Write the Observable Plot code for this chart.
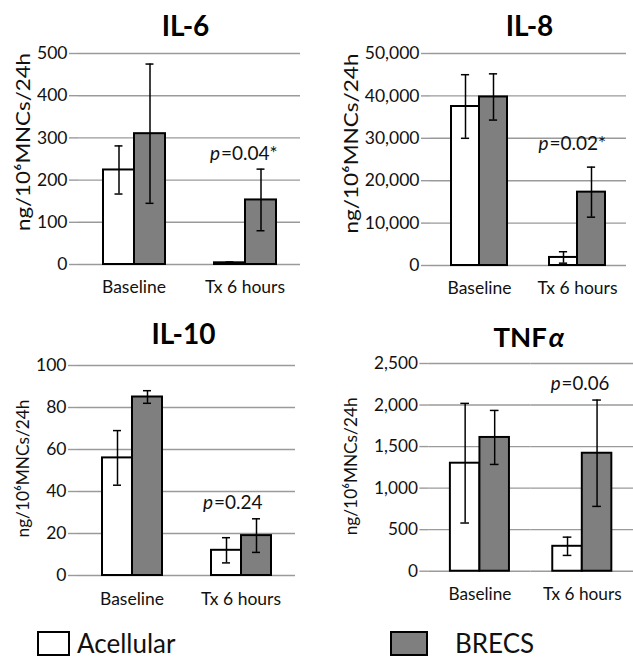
<!DOCTYPE html>
<html>
<head>
<meta charset="utf-8">
<script src="https://cdn.jsdelivr.net/npm/d3@7"></script>
<script src="https://cdn.jsdelivr.net/npm/@observablehq/plot@0.6"></script>
<style>
  html, body { margin: 0; padding: 0; background: #fff; }
  #root { position: relative; width: 633px; height: 666px; overflow: hidden; background: #fff; font-family: Lato, "Open Sans", sans-serif; }
  .panel { position: absolute; }
  .legend-box { box-sizing: border-box; border: 2.5px solid #000; }
  .legend-text { font-size: 26px; color: #111; }
</style>
</head>
<body>
<div id="root"></div>
<script>
// ---------------- data ----------------
const categories = ["Baseline", "Tx 6 hours"];
const seriesNames = ["Acellular", "BRECS"];
const yAxisLabel = "ng/10\u2076MNCs/24h";

const il6Acellular = [224, 4];
const il6AcellularSD = [57, 2];
const il6Brecs = [310, 153];
const il6BrecsSD = [165, 73];
const il6Ticks = [0, 100, 200, 300, 400, 500];

const il8Acellular = [37500, 1900];
const il8AcellularSD = [7500, 1350];
const il8Brecs = [39750, 17300];
const il8BrecsSD = [5450, 5900];
const il8Ticks = [0, 10000, 20000, 30000, 40000, 50000];

const il10Acellular = [56, 12];
const il10AcellularSD = [13, 6];
const il10Brecs = [85, 19];
const il10BrecsSD = [3, 8];
const il10Ticks = [0, 20, 40, 60, 80, 100];

const tnfAcellular = [1300, 300];
const tnfAcellularSD = [720, 110];
const tnfBrecs = [1610, 1420];
const tnfBrecsSD = [325, 640];
const tnfTicks = [0, 500, 1000, 1500, 2000, 2500];

const pValueTexts = ["=0.04*", "=0.02*", "=0.24", "=0.06"];
const pValueY = [262, 28700, 34.6, 2252];

// ---------------- style ----------------
const FONT = "Lato, 'Open Sans', sans-serif";
const GRID = "#9a9a9a";
const GRAY = "#7f7f7f";
const INK = "#111";
const colorRange = ["#ffffff", GRAY];

function rowsOf(a, aSD, b, bSD) {
  return categories.flatMap((c, i) => [
    {category: c, series: seriesNames[0], value: a[i], sd: aSD[i]},
    {category: c, series: seriesNames[1], value: b[i], sd: bSD[i]}
  ]);
}

const panels = [
  {title: "IL-6", rows: rowsOf(il6Acellular, il6AcellularSD, il6Brecs, il6BrecsSD), ticks: il6Ticks, fmt: d3.format(","),
   p: 0, left: 0, top: 0, width: 316, height: 300, mL: 77, mR: 16, mT: 53, mB: 36, pad: 0.74,
   titleDx: -4, titleDy: -26, labDx: -55, labDy: -17, labLen: 178, labSize: 19, pDx: -25, axPad: 16},
  {title: "IL-8", rows: rowsOf(il8Acellular, il8AcellularSD, il8Brecs, il8BrecsSD), ticks: il8Ticks, fmt: d3.format(","),
   p: 1, left: 316, top: 0, width: 317, height: 300, mL: 113, mR: 7, mT: 53, mB: 35, pad: 0.71,
   titleDx: 1, titleDy: -26, labDx: -79, labDy: -16, labLen: 180, labSize: 19, pDx: -29, axPad: 16},
  {title: "IL-10", rows: rowsOf(il10Acellular, il10AcellularSD, il10Brecs, il10BrecsSD), ticks: il10Ticks, fmt: d3.format(","),
   p: 2, left: 0, top: 300, width: 316, height: 320, mL: 77, mR: 21, mT: 65, mB: 45, pad: 0.76,
   titleDx: -3, titleDy: -30, labDx: -54, labDy: -2, labLen: 138, labSize: 18, pDx: -28, axPad: 17},
  {title: "TNF", greek: "\u03b1", rows: rowsOf(tnfAcellular, tnfAcellularSD, tnfBrecs, tnfBrecsSD), ticks: tnfTicks, fmt: d3.format(","),
   p: 3, left: 316, top: 300, width: 322, height: 320, mL: 113, mR: 0, mT: 64, mB: 45, pad: 0.73,
   titleDx: 16, titleDy: -26, labDx: -79, labDy: -1, labLen: 140, labSize: 18, pDx: -22, axPad: 17}
];

function makePanel(cfg) {
  const [cat0, cat1] = categories;
  const ymax = cfg.ticks[cfg.ticks.length - 1];
  const fw = (cfg.width - cfg.mL - cfg.mR) / 2;          // facet width (px)
  const bw = fw / (2 + 2 * cfg.pad);                       // bar width (px)
  const capInset = (bw - 9) / 2;
  const marks = [
    Plot.ruleY(cfg.ticks, {stroke: GRID, strokeWidth: 1.4}),
    // vertical axis line (left) extending slightly below baseline
    Plot.ruleX([cat0], {fx: d => d, dx: -fw / 2, y1: 0, y2: ymax, insetBottom: -6, stroke: GRID, strokeWidth: 1.4}),
    // category boundary ticks
    Plot.ruleX(categories, {fx: d => d, dx: fw / 2, y1: 0, y2: 0, insetBottom: -6, stroke: GRID, strokeWidth: 1.4}),
    Plot.axisY({ticks: cfg.ticks, tickFormat: cfg.fmt, tickSize: 9, tickPadding: 2, stroke: GRID, strokeWidth: 1.4,
                fontSize: 17.5, label: null, fill: INK}),
    Plot.axisFx({anchor: "bottom", tickSize: 0, tickPadding: cfg.axPad, fontSize: 17.5, label: null, fill: INK}),
    Plot.barY(cfg.rows, {fx: "category", x: "series", y: "value", fill: "series", stroke: "#000", strokeWidth: 2}),
    Plot.ruleX(cfg.rows, {fx: "category", x: "series", y1: d => d.value - d.sd, y2: d => d.value + d.sd, stroke: "#000", strokeWidth: 1.5}),
    Plot.tickY(cfg.rows, {fx: "category", x: "series", y: d => d.value + d.sd, insetLeft: capInset, insetRight: capInset, stroke: "#000", strokeWidth: 1.5}),
    Plot.tickY(cfg.rows, {fx: "category", x: "series", y: d => d.value - d.sd, insetLeft: capInset, insetRight: capInset, stroke: "#000", strokeWidth: 1.5}),
    // panel title
    Plot.text([cfg.title], {fx: () => cat0, text: d => d, frameAnchor: "top-right", lineAnchor: "middle",
               textAnchor: cfg.greek ? "end" : "middle",
               dx: cfg.titleDx, dy: cfg.titleDy, fontSize: 28, fontWeight: "bold", fill: "#000"}),
    // y axis label
    Plot.text([yAxisLabel], {fx: () => cat0, text: d => d, frameAnchor: "left", textAnchor: "middle", lineAnchor: "middle", rotate: -90,
               dx: cfg.labDx, dy: cfg.labDy, fontSize: cfg.labSize, fill: INK}),
    // p value annotation
    Plot.text(["p"], {fx: () => cat1, y: () => pValueY[cfg.p], text: d => d, frameAnchor: "middle", textAnchor: "end",
               dx: cfg.pDx, fontSize: 19, fontStyle: "italic", fill: INK}),
    Plot.text([pValueTexts[cfg.p]], {fx: () => cat1, y: () => pValueY[cfg.p], text: d => d, frameAnchor: "middle", textAnchor: "start",
               dx: cfg.pDx + 1, fontSize: 19, fill: INK})
  ];
  if (cfg.greek) {
    marks.push(Plot.text([cfg.greek], {fx: () => cat0, text: d => d, frameAnchor: "top-right", lineAnchor: "middle", textAnchor: "start",
               dx: cfg.titleDx + 2, dy: cfg.titleDy, fontSize: 28, fontWeight: "bold", fontStyle: "italic", fill: "#000"}));
  }
  const svg = Plot.plot({
    width: cfg.width, height: cfg.height,
    marginLeft: cfg.mL, marginRight: cfg.mR, marginTop: cfg.mT, marginBottom: cfg.mB,
    style: {fontFamily: FONT, fontSize: "17px", background: "transparent", color: INK, overflow: "visible"},
    fx: {domain: categories, padding: 0, label: null},
    x: {domain: seriesNames, paddingInner: 0, paddingOuter: cfg.pad, axis: null},
    y: {domain: [0, ymax], axis: null},
    color: {domain: seriesNames, range: colorRange},
    marks
  });
  const div = document.createElement("div");
  div.className = "panel";
  div.style.left = cfg.left + "px";
  div.style.top = cfg.top + "px";
  div.appendChild(svg);
  // stretch the rotated axis label to the reference's length
  div.querySelectorAll("text").forEach(t => {
    if ((t.textContent || "").indexOf("MNCs") >= 0) {
      t.setAttribute("textLength", String(cfg.labLen));
      t.setAttribute("lengthAdjust", "spacingAndGlyphs");
    }
  });
  return div;
}

const root = document.getElementById("root");
panels.forEach(cfg => root.appendChild(makePanel(cfg)));

// legend
const legendItems = [
  {name: seriesNames[0], color: colorRange[0], boxLeft: 37, boxW: 33, textLeft: 77},
  {name: seriesNames[1], color: colorRange[1], boxLeft: 390, boxW: 38, textLeft: 455}
];
legendItems.forEach(it => {
  const box = document.createElement("div");
  box.className = "legend-box";
  Object.assign(box.style, {position: "absolute", left: it.boxLeft + "px", top: "631px", width: it.boxW + "px", height: "25px", background: it.color});
  root.appendChild(box);
  const t = document.createElement("div");
  t.className = "legend-text";
  t.textContent = it.name;
  Object.assign(t.style, {position: "absolute", left: it.textLeft + "px", top: "626px", lineHeight: "34px"});
  root.appendChild(t);
});
</script>
</body>
</html>
